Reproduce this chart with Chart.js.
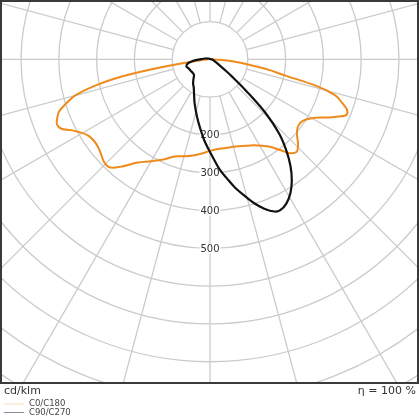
<!DOCTYPE html>
<html>
<head>
<meta charset="utf-8">
<script src="https://cdn.jsdelivr.net/npm/chart.js@4.4.0/dist/chart.umd.min.js"></script>
<style>
  html, body { margin: 0; padding: 0; background: #fff; }
  canvas { display: block; }
</style>
</head>
<body>
<canvas id="ldc" width="420" height="420"></canvas>
<script>
// series names + grid values
const seriesNames = ["C0/C180", "C90/C270"];
const ringValues = [100, 200, 300, 400, 500, 600, 700, 800, 900, 1000, 1100, 1200];
const ringLabels = [200, 300, 400, 500];
const spokeAngles = [0, 15, 30, 45, 60, 75, 90, 105, 120, 135, 150, 165, 180, 195, 210, 225, 240, 255, 270, 285, 300, 315, 330, 345];
const unitLabel = "cd/klm";
const effLabel = "η = 100 %";

// C0 plane (right half), gamma in degrees from nadir, cd/klm
const gammaC0 = [0, 5, 10, 15, 20, 25, 29, 34, 38, 40, 43, 46, 49, 52, 55, 58, 61, 64, 66, 68, 70, 72, 74, 76, 78, 80, 82, 85, 88, 90];
const intensC0 = [242, 238, 238, 239, 244, 251, 260, 278, 305, 323, 335, 324, 305, 294, 292, 300, 318, 350, 372, 390, 385, 366, 345, 290, 200, 156, 107, 60, 25, 5];

// C180 plane (left half)
const gammaC180 = [0, 5, 10, 15, 20, 25, 30, 35, 40, 43, 46, 49, 52, 55, 58, 61, 63, 65, 67, 69, 71, 73, 75, 77, 79, 81, 83, 86, 90];
const intensC180 = [242, 250, 258, 265, 273, 292, 311, 333, 371, 390, 390, 382, 376, 375, 380, 396, 412, 434, 440, 433, 422, 398, 370, 315, 238, 120, 45, 22, 5];

// C90 plane (right half)
const gammaC90 = [0, 2, 5, 8, 11, 14, 17, 20, 23, 25, 28, 31, 34, 37, 40, 43, 46, 49, 52, 55, 60, 70, 80, 90];
const intensC90 = [245, 262, 292, 317, 345, 370, 397, 420, 437, 440, 431, 413, 387, 354, 314, 268, 205, 127, 75, 45, 25, 12, 8, 5];

// C270 plane (left half)
const gammaC270 = [0, 4, 8, 12, 16, 20, 25, 30, 35, 40, 46, 52, 58, 63, 68, 73, 77, 81, 85, 88, 95, 110];
const intensC270 = [245, 215, 185, 160, 138, 120, 100, 86, 78, 68, 59, 58, 59, 60, 62, 65, 63, 57, 45, 35, 18, 9];

function toPoints(gammas, values, side) {
  return gammas.map((g, i) => {
    const a = g * Math.PI / 180;
    return { x: side * values[i] * Math.sin(a), y: -values[i] * Math.cos(a) };
  });
}

function curve(leftG, leftI, rightG, rightI) {
  const left = toPoints(leftG, leftI, -1).reverse();
  const right = toPoints(rightG, rightI, 1).slice(1);
  return left.concat(right);
}

const ptsC0C180 = curve(gammaC180, intensC180, gammaC0, intensC0);
const ptsC90C270 = curve(gammaC270, intensC270, gammaC90, intensC90);
ptsC90C270.push(ptsC90C270[0]);

const polarGrid = {
  id: "polarGrid",
  beforeDatasetsDraw(chart) {
    const { ctx, chartArea, scales } = chart;
    const cx = scales.x.getPixelForValue(0);
    const cy = scales.y.getPixelForValue(0);
    const k = scales.x.getPixelForValue(100) - cx;
    ctx.save();
    ctx.beginPath();
    ctx.rect(chartArea.left, chartArea.top, chartArea.right - chartArea.left, chartArea.bottom - chartArea.top);
    ctx.clip();
    ctx.strokeStyle = "#cbcbcb";
    ctx.lineWidth = 1.3;
    ringValues.forEach((v) => {
      ctx.beginPath();
      ctx.arc(cx, cy, v / 100 * k, 0, Math.PI * 2);
      ctx.stroke();
    });
    const r0 = ringValues[0] / 100 * k;
    const r1 = ringValues[ringValues.length - 1] / 100 * k;
    spokeAngles.forEach((deg) => {
      const a = deg * Math.PI / 180;
      ctx.beginPath();
      ctx.moveTo(cx + r0 * Math.sin(a), cy + r0 * Math.cos(a));
      ctx.lineTo(cx + r1 * Math.sin(a), cy + r1 * Math.cos(a));
      ctx.stroke();
    });
    ctx.font = "10px 'DejaVu Sans'";
    ctx.textAlign = "center";
    ctx.textBaseline = "middle";
    ringLabels.forEach((v) => {
      const y = scales.y.getPixelForValue(-v);
      const w = ctx.measureText(String(v)).width;
      ctx.fillStyle = "#fff";
      ctx.fillRect(cx - w / 2 - 1, y - 5, w + 2, 10);
      ctx.fillStyle = "#333";
      ctx.fillText(String(v), cx, y + 0.5);
    });
    ctx.restore();
  },
  afterDraw(chart) {
    const { ctx, chartArea } = chart;
    ctx.save();
    ctx.strokeStyle = "#3a3a3a";
    ctx.lineWidth = 2;
    ctx.strokeRect(chartArea.left, chartArea.top + 1, chartArea.right - chartArea.left - 1, chartArea.bottom - chartArea.top);
    ctx.fillStyle = "#333";
    ctx.font = "11px 'DejaVu Sans'";
    ctx.textBaseline = "middle";
    ctx.textAlign = "left";
    ctx.fillText(unitLabel, 4, 391);
    ctx.textAlign = "right";
    ctx.fillText(effLabel, 416, 391);
    const legendColors = ["#f3dcc2", "#8a8a9a"];
    ctx.font = "8.5px 'DejaVu Sans'";
    ctx.textAlign = "left";
    seriesNames.forEach((name, i) => {
      const y = 404 + i * 8.5;
      ctx.strokeStyle = legendColors[i];
      ctx.lineWidth = 1;
      ctx.beginPath();
      ctx.moveTo(4, y);
      ctx.lineTo(24, y);
      ctx.stroke();
      ctx.fillStyle = "#444";
      ctx.fillText(name, 29, y);
    });
    ctx.restore();
  }
};

new Chart(document.getElementById("ldc"), {
  type: "scatter",
  data: {
    datasets: [
      { label: seriesNames[0], data: ptsC0C180, showLine: true, borderColor: "#ef8a1c", borderWidth: 2, pointRadius: 0, tension: 0.35, order: 2 },
      { label: seriesNames[1], data: ptsC90C270, showLine: true, borderColor: "#111111", borderWidth: 2.2, pointRadius: 0, tension: 0.35, order: 1 }
    ]
  },
  options: {
    responsive: false,
    animation: false,
    devicePixelRatio: 1,
    layout: { padding: { left: 1, right: 1, top: 0, bottom: 38 } },
    plugins: { legend: { display: false }, tooltip: { enabled: false } },
    scales: {
      x: { type: "linear", display: false, min: -553, max: 553 },
      y: { type: "linear", display: false, min: -853, max: 157 }
    }
  },
  plugins: [polarGrid]
});
</script>
</body>
</html>
